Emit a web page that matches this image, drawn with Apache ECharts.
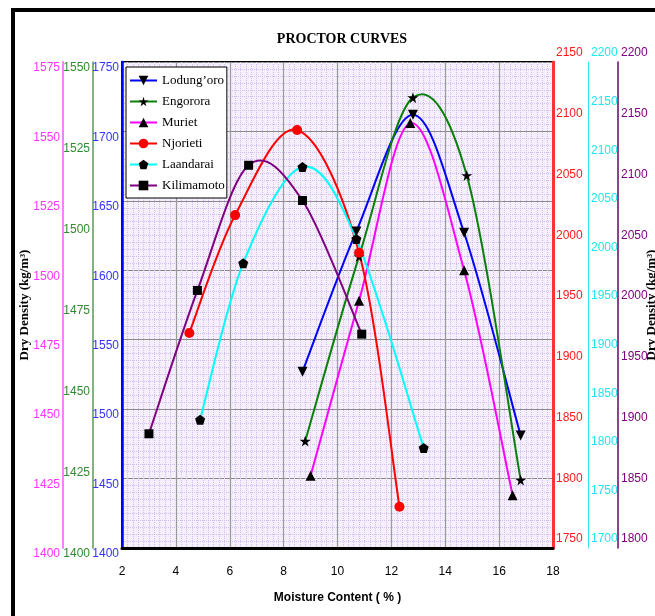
<!DOCTYPE html>
<html><head><meta charset="utf-8">
<script src="https://cdn.jsdelivr.net/npm/echarts@6/dist/echarts.min.js"></script>
<style>html,body{margin:0;padding:0;background:#fff;}#c{width:655px;height:616px;}</style>
</head><body><div id="c"></div>
<script>
// ---- data ----
const seriesNames = ["Lodung\u2019oro", "Engorora", "Muriet", "Njorieti", "Laandarai", "Kilimamoto"];
const lodungoroX = [8.7, 10.7, 12.8, 14.7, 16.8];
const lodungoroY = [1527, 1628, 1712, 1627, 1481];
const engororaX = [8.8, 10.8, 12.8, 14.8, 16.8];
const engororaY = [1433, 1490, 1539, 1515, 1421];
const murietX = [9.0, 10.8, 12.7, 14.7, 16.5];
const murietY = [1426, 1489, 1553, 1500, 1419];
const njorietiX = [4.5, 6.2, 8.5, 10.8, 12.3];
const njorietiY = [1927, 2024, 2094, 1993, 1784];
const laandaraiX = [4.9, 6.5, 8.7, 10.7, 13.2];
const laandaraiY = [1832, 1993, 2092, 2018, 1803];
const kilimamotoX = [3.0, 4.8, 6.7, 8.7, 10.9];
const kilimamotoY = [1894, 2012, 2115, 2086, 1976];
const xTicks = {min: 2, max: 18, interval: 2};

const pairs = (xs, ys) => xs.map((x, i) => [x, ys[i]]);
const SANS = "'Liberation Sans', Arial, sans-serif";
const SERIF = "'Liberation Serif', 'Times New Roman', serif";
const STAR = 'path://M50,0 L61,35 L98,35 L68,57 L79,91 L50,70 L21,91 L32,57 L2,35 L39,35 Z';
const PENT = 'path://M50,0 L100,38 L81,100 L19,100 L0,38 Z';

const defs = [
  {name: seriesNames[0], data: pairs(lodungoroX, lodungoroY), axis: 0, color: '#0000ff', symbol: 'triangle', rot: 180, size: 10, sym: '#000'},
  {name: seriesNames[1], data: pairs(engororaX, engororaY), axis: 1, color: '#0a800a', symbol: STAR, rot: 0, size: 11, sym: '#000'},
  {name: seriesNames[2], data: pairs(murietX, murietY), axis: 2, color: '#ff00ff', symbol: 'triangle', rot: 0, size: 10, sym: '#000'},
  {name: seriesNames[3], data: pairs(njorietiX, njorietiY), axis: 3, color: '#ff0000', symbol: 'circle', rot: 0, size: 10, sym: '#ff0000'},
  {name: seriesNames[4], data: pairs(laandaraiX, laandaraiY), axis: 4, color: '#00ffff', symbol: PENT, rot: 0, size: 10, sym: '#000'},
  {name: seriesNames[5], data: pairs(kilimamotoX, kilimamotoY), axis: 5, color: '#800080', symbol: 'rect', rot: 0, size: 9, sym: '#000'}
];

// smooth curve (Catmull-Rom as cubic Bezier) through the data points, via the axes' scales
function curveRenderer(data, color) {
  return function (params, api) {
    if (params.dataIndex !== 0) return null;
    const p = data.map(d => api.coord(d));
    const n = p.length, T = 1 / 6, children = [];
    for (let i = 0; i < n - 1; i++) {
      const p0 = p[Math.max(i - 1, 0)], p1 = p[i], p2 = p[i + 1], p3 = p[Math.min(i + 2, n - 1)];
      children.push({type: 'bezierCurve', shape: {
        x1: p1[0], y1: p1[1], x2: p2[0], y2: p2[1],
        cpx1: p1[0] + (p2[0] - p0[0]) * T, cpy1: p1[1] + (p2[1] - p0[1]) * T,
        cpx2: p2[0] - (p3[0] - p1[0]) * T, cpy2: p2[1] - (p3[1] - p1[1]) * T},
        style: {stroke: color, lineWidth: 2, fill: null}});
    }
    return {type: 'group', children: children};
  };
}

function yAx(pos, offset, min, max, interval, lineColor, lineWidth, labelColor, extra) {
  const ax = {
    type: 'value', position: pos, offset: offset, min: min, max: max, interval: interval,
    axisLine: {show: true, lineStyle: {color: lineColor, width: lineWidth}},
    axisTick: {show: false},
    splitLine: {show: false},
    nameMoveOverlap: false,
    axisLabel: {color: labelColor, fontFamily: SANS, fontSize: 12, margin: 3,
      formatter: v => String(v),
      verticalAlign: pos === 'left' ? 'top' : 'bottom',
      padding: pos === 'left' ? [0,0,0,0] : [0,0,3,0]}
  };
  return Object.assign(ax, extra || {});
}

const series = [];
defs.forEach(d => {
  series.push({name: d.name + ' curve', type: 'custom', yAxisIndex: d.axis, z: 1, silent: true,
    data: d.data, renderItem: curveRenderer(d.data, d.color)});
});
defs.forEach(d => {
  series.push({name: d.name, type: 'line', yAxisIndex: d.axis, z: 3, data: d.data,
    symbol: d.symbol, symbolRotate: d.rot, symbolSize: d.size,
    lineStyle: {color: d.color, width: 2, opacity: 0}, itemStyle: {color: d.sym}});
});

const chart = echarts.init(document.getElementById('c'), null, {renderer: 'canvas'});
const option = {
  animation: false,
  backgroundColor: '#fff',
  title: {text: 'PROCTOR CURVES', left: 337, top: 27, textAlign: 'center',
    textStyle: {fontFamily: SERIF, fontWeight: 'bold', fontSize: 14, color: '#000'}},
  grid: {left: 122, right: 102, top: 62, bottom: 68, show: true, borderColor: '#000', borderWidth: 2,
    backgroundColor: '#f5effc', outerBoundsMode: 'none', containLabel: false},
  legend: {
    left: 126, top: 67, orient: 'vertical', itemWidth: 27, itemHeight: 12, itemGap: 8,
    padding: [7, 2, 6, 3], backgroundColor: '#fff', borderColor: '#000', borderWidth: 1,
    textStyle: {fontFamily: SERIF, fontSize: 13, color: '#000'},
    data: defs.map(d => ({name: d.name, lineStyle: {color: d.color, width: 2, opacity: 1}}))
  },
  xAxis: {
    type: 'value', min: xTicks.min, max: xTicks.max, interval: xTicks.interval,
    name: 'Moisture Content ( % )', nameLocation: 'middle', nameGap: 44, nameMoveOverlap: false,
    nameTextStyle: {fontFamily: SANS, fontWeight: 'bold', fontSize: 12, color: '#000'},
    axisLine: {show: true, lineStyle: {color: '#000', width: 3}},
    axisTick: {show: false},
    axisLabel: {color: '#000', fontFamily: SANS, fontSize: 12, margin: 18},
    splitLine: {show: true, lineStyle: {color: '#9a9a9a', width: 1.2}},
    minorTick: {show: false, splitNumber: 10},
    minorSplitLine: {show: true, lineStyle: {color: '#d2bff0', width: 1, type: 'dotted'}}
  },
  yAxis: [
    yAx('left', 0, 1400, 1750, 50, '#0000ff', 2.5, '#3333ff', {
      splitLine: {show: true, lineStyle: {color: '#8c8c8c', width: 1.2}},
      minorTick: {show: false, splitNumber: 10},
      minorSplitLine: {show: true, lineStyle: {color: '#d2bff0', width: 1, type: 'dotted'}}
    }),
    yAx('left', 29, 1400, 1550, 25, '#5a9a5a', 1.5, '#2e8b2e'),
    yAx('left', 59, 1400, 1575, 25, '#ff80ff', 2, '#ff33ff', {
      name: 'Dry Density (kg/m\u00b3)', nameLocation: 'middle', nameRotate: 90, nameGap: 32,
      nameTextStyle: {fontFamily: SERIF, fontWeight: 'bold', fontSize: 13, color: '#000'}
    }),
    yAx('right', 0, 1750, 2150, 50, '#ff3333', 3, '#ff1a1a'),
    yAx('right', 35, 1700, 2200, 50, '#33e8f0', 1, '#22e4f0'),
    yAx('right', 65, 1800, 2200, 50, '#6a006a', 1.5, '#800080', {
      name: 'Dry Density (kg/m\u00b3)', nameLocation: 'middle', nameRotate: 90, nameGap: 27,
      nameTextStyle: {fontFamily: SERIF, fontWeight: 'bold', fontSize: 13, color: '#000'}
    })
  ],
  series: series,
  graphic: [
    {type: 'rect', silent: true, z: 100, shape: {x: 13, y: 10, width: 700, height: 700},
      style: {fill: null, stroke: '#000', lineWidth: 4}}
  ]
};
chart.setOption(option);
</script>
</body></html>
